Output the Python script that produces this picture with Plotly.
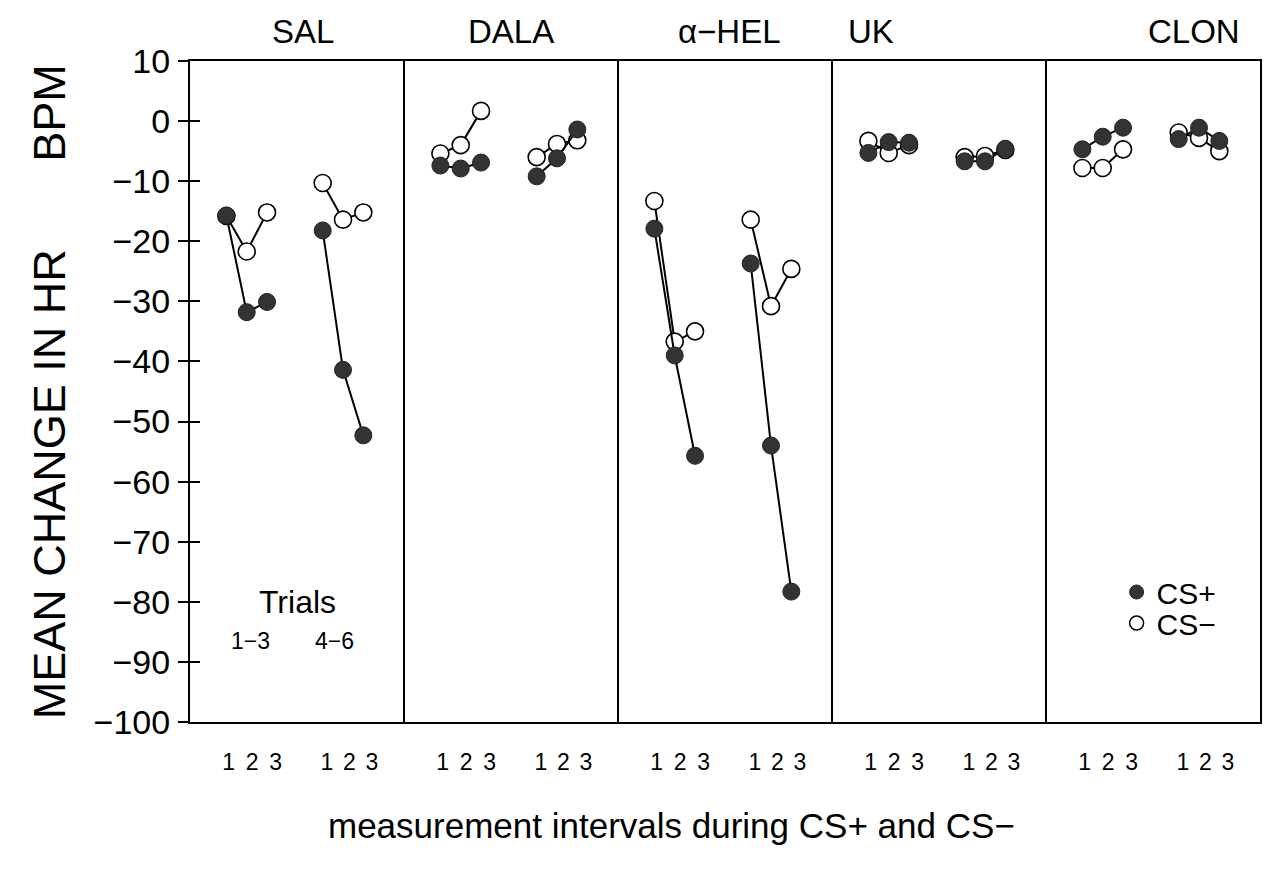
import plotly.graph_objects as go

# ---------------- data ----------------
panels = ["SAL", "DALA", "α−HEL", "UK", "CLON"]
interval_labels = ["1", "2", "3"]

# Mean change in HR (BPM), measurement intervals 1-3, per panel
cs_plus_trials_1_3 = [[-15.7, -31.8, -30.1], [-7.4, -7.9, -6.9], [-17.9, -39.0, -55.7],
                      [-5.3, -3.5, -3.6], [-4.7, -2.6, -1.1]]
cs_plus_trials_4_6 = [[-18.2, -41.4, -52.3], [-9.2, -6.2, -1.4], [-23.7, -54.0, -78.3],
                      [-6.7, -6.7, -4.6], [-3.0, -1.1, -3.3]]
cs_minus_trials_1_3 = [[-15.8, -21.7, -15.2], [-5.4, -4.0, 1.7], [-13.3, -36.7, -35.0],
                       [-3.3, -5.3, -4.0], [-7.8, -7.8, -4.7]]
cs_minus_trials_4_6 = [[-10.3, -16.4, -15.2], [-6.0, -3.8, -3.2], [-16.4, -30.8, -24.6],
                       [-6.0, -5.8, -4.8], [-1.9, -2.8, -5.0]]

y_ticks = list(range(-100, 11, 10))

# ---------------- layout helpers ----------------
PANEL_W = 10
pos_1_3 = [1.7, 2.65, 3.6]
pos_4_6 = [6.2, 7.15, 8.1]
lab_1_3 = [1.8, 2.9, 4.0]
lab_4_6 = [6.4, 7.45, 8.5]
title_pos = [5.3, 5.0, 5.2, 1.8, 6.9]

FONT = "Liberation Sans, Arial, sans-serif"


def series_xy(g13, g46):
    xs, ys = [], []
    for p in range(len(panels)):
        base = p * PANEL_W
        xs += [base + o for o in pos_1_3] + [None]
        ys += list(g13[p]) + [None]
        xs += [base + o for o in pos_4_6] + [None]
        ys += list(g46[p]) + [None]
    return xs, ys


fig = go.Figure()

xm, ym = series_xy(cs_minus_trials_1_3, cs_minus_trials_4_6)
fig.add_trace(go.Scatter(
    x=xm, y=ym, mode="lines+markers", connectgaps=False, showlegend=False,
    line=dict(color="black", width=2),
    marker=dict(symbol="circle", size=17, color="white", line=dict(color="black", width=1.6)),
))
xp, yp = series_xy(cs_plus_trials_1_3, cs_plus_trials_4_6)
fig.add_trace(go.Scatter(
    x=xp, y=yp, mode="lines+markers", connectgaps=False, showlegend=False,
    line=dict(color="black", width=2),
    marker=dict(symbol="circle", size=17, color="#333333", line=dict(color="#222222", width=1)),
))

# legend entries
fig.add_trace(go.Scatter(
    x=[None], y=[None], mode="markers", name="CS+", legend="legend", yaxis="y2",
    marker=dict(symbol="circle", size=14, color="#333333", line=dict(color="#222222", width=1)),
))
fig.add_trace(go.Scatter(
    x=[None], y=[None], mode="markers", name="CS−", legend="legend2", yaxis="y2",
    marker=dict(symbol="circle", size=14, color="white", line=dict(color="black", width=1.5)),
))

# x tick positions / labels
tickvals, ticktext = [], []
for p in range(len(panels)):
    base = p * PANEL_W
    for o, t in zip(lab_1_3, interval_labels):
        tickvals.append(base + o)
        ticktext.append(t)
    for o, t in zip(lab_4_6, interval_labels):
        tickvals.append(base + o)
        ticktext.append(t)

# panel separators
for p in range(1, len(panels)):
    fig.add_shape(type="line", xref="x", yref="paper", x0=p * PANEL_W, x1=p * PANEL_W,
                  y0=0, y1=1, line=dict(color="black", width=2))

annotations = []
for p, name in enumerate(panels):
    annotations.append(dict(x=p * PANEL_W + title_pos[p], y=1.045, xref="x", yref="paper",
                            text=name, showarrow=False, font=dict(size=33, color="black"),
                            xanchor="center", yanchor="middle"))
annotations += [
    dict(x=5.0, y=-80.0, xref="x", yref="y", text="Trials", showarrow=False,
         font=dict(size=32, color="black"), xanchor="center", yanchor="middle"),
    dict(x=2.85, y=-86.5, xref="x", yref="y", text="1−3", showarrow=False,
         font=dict(size=23, color="black"), xanchor="center", yanchor="middle"),
    dict(x=6.75, y=-86.5, xref="x", yref="y", text="4−6", showarrow=False,
         font=dict(size=23, color="black"), xanchor="center", yanchor="middle"),
    dict(x=-0.131, y=0.5, xref="paper", yref="paper",
         text="MEAN CHANGE IN HR" + "\u00a0" * 7 + "BPM", textangle=-90, showarrow=False,
         font=dict(size=45, color="black"), xanchor="center", yanchor="middle"),
    dict(x=0.45, y=-0.156, xref="paper", yref="paper",
         text="measurement intervals during CS+ and CS−", showarrow=False,
         font=dict(size=35, color="black"), xanchor="center", yanchor="middle"),
]

fig.update_layout(
    width=1266, height=873,
    margin=dict(l=190, r=4, t=61, b=151),
    paper_bgcolor="white", plot_bgcolor="white",
    font=dict(family=FONT, color="black"),
    annotations=annotations,
    xaxis=dict(range=[0, 5 * PANEL_W], showgrid=False, zeroline=False,
               showline=True, mirror=True, linecolor="black", linewidth=2,
               tickvals=tickvals, ticktext=ticktext, ticks="",
               tickfont=dict(size=23), ticklabelstandoff=18),
    yaxis=dict(range=[-100, 10], showgrid=False, zeroline=False,
               showline=True, mirror=True, linecolor="black", linewidth=2,
               tickvals=y_ticks, ticks="outside", ticklen=10, tickwidth=2,
               tickcolor="black", tickfont=dict(size=34), ticklabelstandoff=1),
    yaxis2=dict(range=[-100, 10], overlaying="y", side="left", anchor="x",
                showgrid=False, zeroline=False, showline=False,
                tickvals=y_ticks, ticks="inside", ticklen=10, tickwidth=2,
                tickcolor="black", showticklabels=False),
    legend=dict(x=0.866, y=0.236, xanchor="left", yanchor="top",
                font=dict(size=30), bgcolor="rgba(0,0,0,0)", itemwidth=30,
                tracegroupgap=0),
    legend2=dict(x=0.866, y=0.189, xanchor="left", yanchor="top",
                 font=dict(size=30), bgcolor="rgba(0,0,0,0)", itemwidth=30,
                 tracegroupgap=0),
)

fig.write_html("out.html")
